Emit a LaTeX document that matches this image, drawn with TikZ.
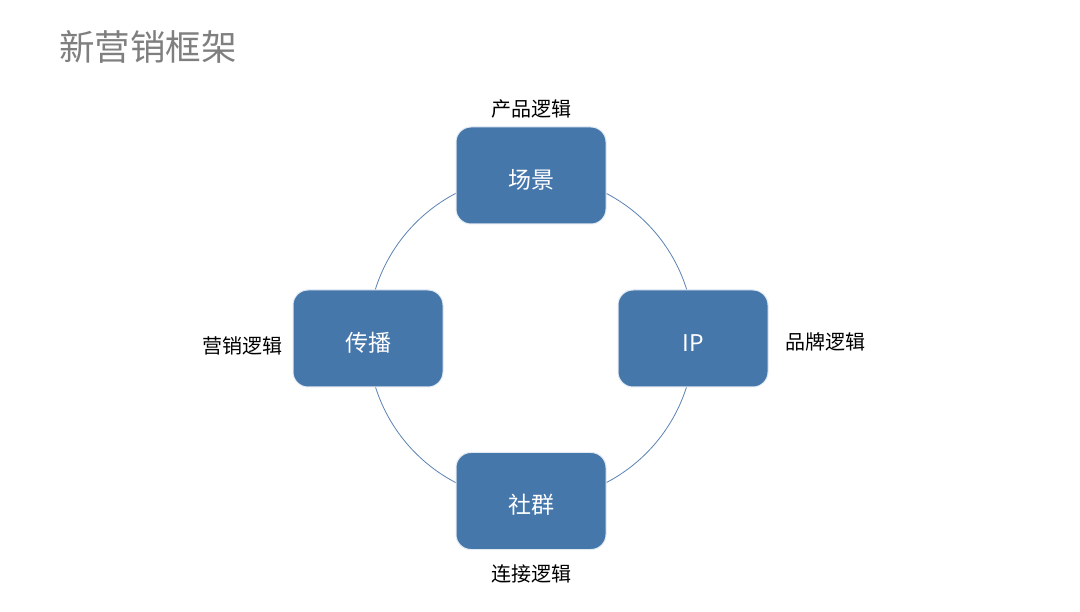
\documentclass[tikz,border=0pt]{standalone}
\usepackage{fontspec}
\setmainfont{Noto Sans CJK SC}
\definecolor{boxblue}{HTML}{4677AB}
\definecolor{ringblue}{HTML}{5B82B4}
\definecolor{titlegray}{HTML}{7F7F7F}
\begin{document}
\begin{tikzpicture}[x=1pt,y=-1pt,
  blockbox/.style={draw=white!85!boxblue, line width=1pt, fill=boxblue, rounded corners=15pt,
    minimum width=150pt, minimum height=97pt, inner sep=0pt, text=white, font=\fontsize{23}{27}\selectfont,
    text height=26pt, text depth=0pt},
  lbl/.style={font=\fontsize{20}{24}\selectfont, text=black, inner sep=0pt}]
\useasboundingbox[fill=white] (0,0) rectangle (1080,612);
\node[anchor=west, text=titlegray, font=\fontsize{35.5}{40}\selectfont, inner sep=0pt] (title) at (59,47) {新营销框架};
\coordinate (c) at (531,338);
\draw[ringblue, line width=0.8pt] (c) circle[radius=163];
\node[blockbox] (scene) at (531,175.5) {场景};
\node[blockbox] (ip) at (693,338.5) {IP};
\node[blockbox] (spread) at (368,338.5) {传播};
\node[blockbox] (group) at (531,501) {社群};
\node[lbl] (l1) at (531,108.5) {产品逻辑};
\node[lbl] (l2) at (825,341.5) {品牌逻辑};
\node[lbl] (l3) at (242,345.5) {营销逻辑};
\node[lbl] (l4) at (531,573.5) {连接逻辑};
\end{tikzpicture}
\end{document}
